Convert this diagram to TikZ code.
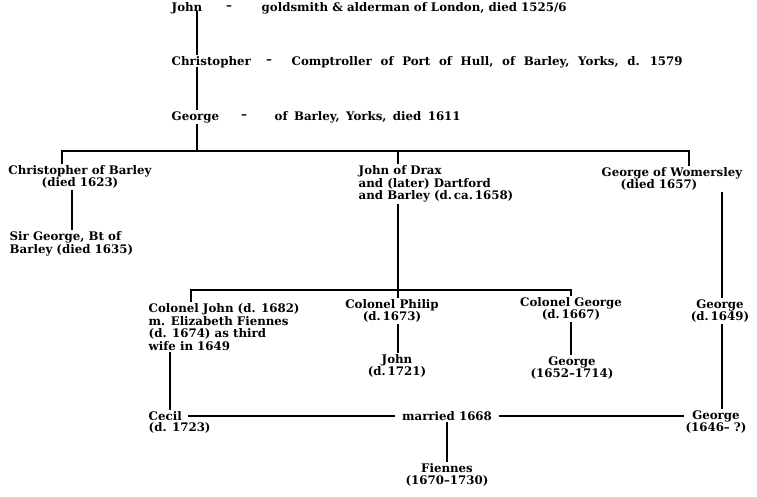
\documentclass[tikz,border=0pt]{standalone}
\usepackage{fontspec}
\setmainfont{DejaVu Serif}
\tikzset{
  txt/.style={inner sep=1.5pt, font=\bfseries\fontsize{11.8}{12.5}\selectfont},
  lc/.style={txt, align=center},
  ll/.style={txt, align=left},
  link/.style={line width=1.1pt}}
\begin{document}
\begin{tikzpicture}[x=1pt,y=-1pt]
\useasboundingbox (0,0) rectangle (757,496);
% top line
\node[txt, anchor=west] (john) at (170,8) {John};
\node[txt] (d1) at (229,8) {--};
\node[txt, anchor=west] (johnd) at (260,8) {\spaceskip=4.1pt\relax goldsmith \& alderman of London, died 1525/6};
\node[txt, anchor=west] (chris) at (170,62) {Christopher};
\node[txt] (d2) at (269,62) {--};
\node[txt, anchor=west] (chrisd) at (290,62) {\spaceskip=8.7pt\relax Comptroller of Port of Hull, of Barley, Yorks, d. 1579};
\node[txt, anchor=west] (geo) at (170,117) {George};
\node[txt] (d3) at (244,117) {--};
\node[txt, anchor=west] (geod) at (273,117) {\spaceskip=6.4pt\relax of Barley, Yorks, died 1611};
% second generation
\node[lc] (cob) at (80,177) {Christopher of Barley\\(died 1623)};
\node[ll, anchor=west] (sirg) at (8,244) {Sir George, Bt of\\Barley (died 1635)};
\node[ll, anchor=west] (jdrax) at (357,184) {John of Drax\\and (later) Dartford\\and Barley (d.\,ca.\,1658)};
\node[ll, anchor=west] (gwom) at (600,179) {George of Womersley\\\hspace*{19pt}(died 1657)};
% third generation
\node[ll, anchor=west] (cj) at (147,327) {Colonel John (d. 1682)\\m. Elizabeth Fiennes\\(d. 1674) as third\\wife in 1649};
\node[lc] (cp) at (392,311) {Colonel Philip\\(d.\,1673)};
\node[lc] (cg) at (571,309) {Colonel George\\(d.\,1667)};
\node[lc] (g1649) at (720,311) {George\\(d.\,1649)};
\node[lc] (jp) at (397,366) {John\\(d.\,1721)};
\node[lc] (g1652) at (572,368) {George\\(1652--1714)};
% fourth generation
\node[txt, anchor=west] (cecil) at (147,416) {Cecil};
\node[txt, anchor=west] (cecild) at (147,428) {(d. 1723)};
\node[txt] (married) at (447,416) {married 1668};
\node[lc] (g1646) at (716,422) {George\\(1646-- ?)};
\node[lc] (fien) at (447,475) {Fiennes\\(1670--1730)};
% bars
\coordinate (b1L) at (62,151);
\coordinate (b1M) at (197,151);
\coordinate (b1R) at (689,151);
\coordinate (b2L) at (191,290);
\coordinate (b2M) at (398,290);
\coordinate (b2R) at (571,290);
% connectors
\draw[link] ([yshift=4pt]john.south -| b1M) -- (chris.north -| b1M);
\draw[link] ([yshift=2pt]chris.south -| b1M) -- (geo.north -| b1M);
\draw[link] (geo.south -| b1M) -- (b1M);
\draw[link] (b1L |- cob.north) -- (b1L) -- (b1R) -- (b1R |- gwom.north);
\draw[link] (b1M -| b2M) -- (jdrax.north -| b2M);
\draw[link] (cob.south -| 72,0) -- (sirg.north -| 72,0);
\draw[link] (jdrax.south -| b2M) -- (b2M);
\draw[link] (b2L |- cj.north) -- (b2L) -- (b2R) -- (b2R |- cg.north);
\draw[link] (b2M) -- (b2M |- cp.north);
\draw[link] (cp.south -| b2M) -- (jp.north -| b2M);
\draw[link] (cg.south -| b2R) -- (g1652.north -| b2R);
\draw[link] (gwom.south -| 722,0) -- (g1649.north -| 722,0);
\draw[link] (g1649.south -| 722,0) -- (g1646.north -| 722,0);
\draw[link] (cj.south -| 170,0) -- (cecil.north -| 170,0);
\draw[link] ([xshift=5pt]cecil.east) -- ([xshift=-5pt]married.west);
\draw[link] ([xshift=5pt]married.east) -- (married.east -| g1646.west);
\draw[link] (married.south) -- (fien.north);
\end{tikzpicture}
\end{document}
